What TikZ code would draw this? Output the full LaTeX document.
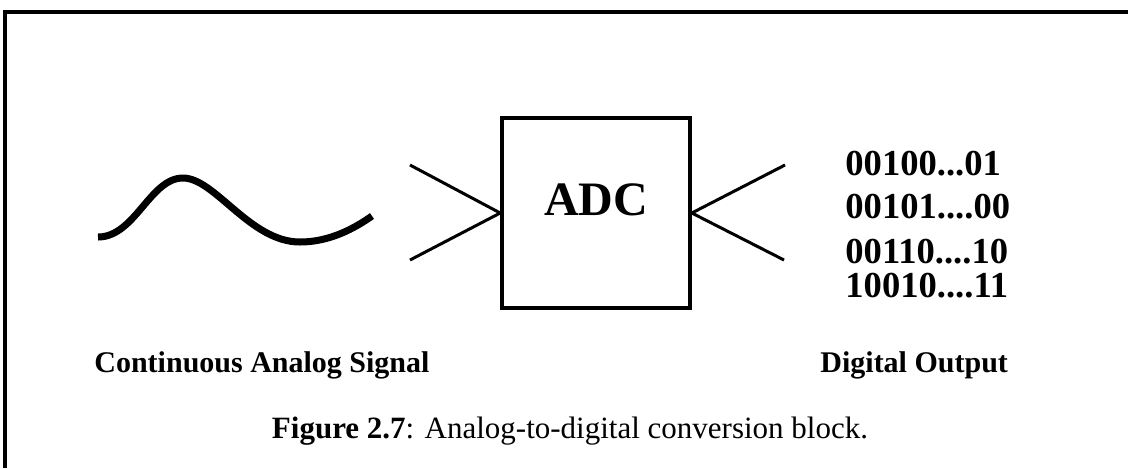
\documentclass[tikz,border=0pt]{standalone}
\usepackage{fontspec}
\setmainfont{Liberation Serif}
\usetikzlibrary{positioning}

\begin{document}
\begin{tikzpicture}[x=0.5pt,y=-0.5pt, adcbox/.style={draw,line width=1.8pt,minimum width=94pt,minimum height=95pt,inner sep=0pt}, bits/.style={anchor=base west,font=\bfseries\fontsize{18.3}{20}\selectfont,inner sep=0pt}, lbl/.style={anchor=base west,font=\bfseries\fontsize{15}{17}\selectfont,inner sep=0pt}, wire/.style={line width=1.5pt}]
\useasboundingbox (0,0) rectangle (1128,468);
\draw[line width=2pt] (5,468) -- (5,12) -- (1128,12);
\draw[line width=3.5pt] (98,237) .. controls (135,237) and (150,178) .. (183,178) .. controls (215,178) and (250,242) .. (300,242) .. controls (330,242) and (355,228) .. (372,216);
\node[adcbox] (adc) at (596,213) {};
\node[font=\bfseries\fontsize{24}{28}\selectfont,inner sep=0pt] (adctxt) at (596,200) {ADC};
\coordinate (in1) at (410,165); \coordinate (in2) at (410,260);
\coordinate (out1) at (785,165); \coordinate (out2) at (784,260);
\draw[wire] (in1) -- (adc.west) -- (in2);
\draw[wire] (out1) -- (adc.east) -- (out2);
\node[bits] (b1) at (845,175) {00100...01};
\node[bits] (b2) at (845,218) {00101....00};
\node[bits] (b3) at (845,263) {00110....10};
\node[bits] (b4) at (845,297) {10010....11};
\node[lbl] (sig) at (94,372) {Continuous Analog Signal};
\node[lbl] (dout) at (820,372) {Digital Output};
\node[font=\fontsize{15.5}{17}\selectfont,anchor=base,inner sep=0pt] (cap) at (570,438) {\textbf{Figure 2.7}: Analog-to-digital conversion block.};
\end{tikzpicture}
\end{document}
